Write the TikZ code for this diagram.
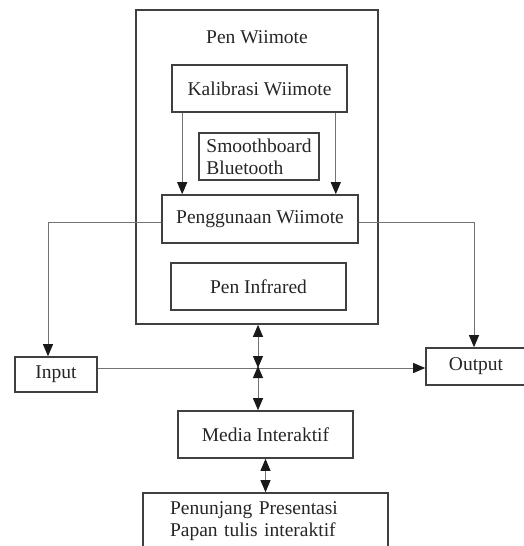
\documentclass[tikz,border=0pt]{standalone}
\usepackage{fontspec}
\setmainfont{Liberation Serif}
\usetikzlibrary{arrows.meta}
\tikzset{
  blok/.style={draw=black!75, line width=1.6pt, text=black!85, inner sep=0pt},
  hub/.style={draw=black!55, line width=0.9pt},
  tip/.style={-{Triangle[length=12pt,width=10pt,black!90]}},
  tips/.style={{Triangle[length=12pt,width=10pt,black!90]}-{Triangle[length=12pt,width=10pt,black!90]}}
}
\begin{document}
\begin{tikzpicture}[x=1pt,y=-1pt,font=\fontsize{19.5}{22}\selectfont]
  \useasboundingbox (0,0) rectangle (524,546);
  \clip (0,0) rectangle (524,546);
  % blocks
  \node[blok, minimum width=242, minimum height=314] (penwii) at (257,167) {};
  \node[text=black!85] (judul) at (257,37) {Pen Wiimote};
  \node[blok, minimum width=175, minimum height=47] (kalib) at (259.5,88.5) {Kalibrasi Wiimote};
  \node[blok, minimum width=120, minimum height=47, align=left] (smooth) at (259,156.5)
    {Smoothboard\\Bluetooth};
  \node[blok, fill=white, minimum width=196, minimum height=48] (guna) at (260,219) {Penggunaan Wiimote};
  \node[blok, minimum width=175, minimum height=47] (infra) at (258.5,286.5) {Pen Infrared};
  \node[blok, minimum width=82, minimum height=35] (input) at (56,374.5) {Input};
  \node[blok, minimum width=100, minimum height=37] (output) at (476,366.5) {Output};
  \node[blok, minimum width=175, minimum height=47] (media) at (265.5,434.5) {Media Interaktif};
  \node[blok, minimum height=56, text width=191, inner xsep=27, align=left] (tunjang) at (265.5,521)
    {Penunjang Presentasi\\Papan tulis interaktif};
  \coordinate (simpul) at (258,368);
  % connectors
  \begin{scope}[hub]
    \draw[tip] ([xshift=11]kalib.south west) to ([xshift=11]kalib.south west |- guna.north);
    \draw[tip] ([xshift=-12]kalib.south east) to ([xshift=-12]kalib.south east |- guna.north);
    \draw[tip] ([yshift=-3]guna.west) -| ([xshift=-8]input.north);
    \draw[tip] ([yshift=-3]guna.east) -| ([xshift=-2]output.north);
    \draw[tip] (input.east |- simpul) to (output.west |- simpul);
    \draw[tips] (simpul |- penwii.south) to (simpul);
    \draw[tips] ([yshift=2]simpul) to (simpul |- media.north);
    \draw[tips] (media.south) to (tunjang.north);
  \end{scope}
\end{tikzpicture}
\end{document}
